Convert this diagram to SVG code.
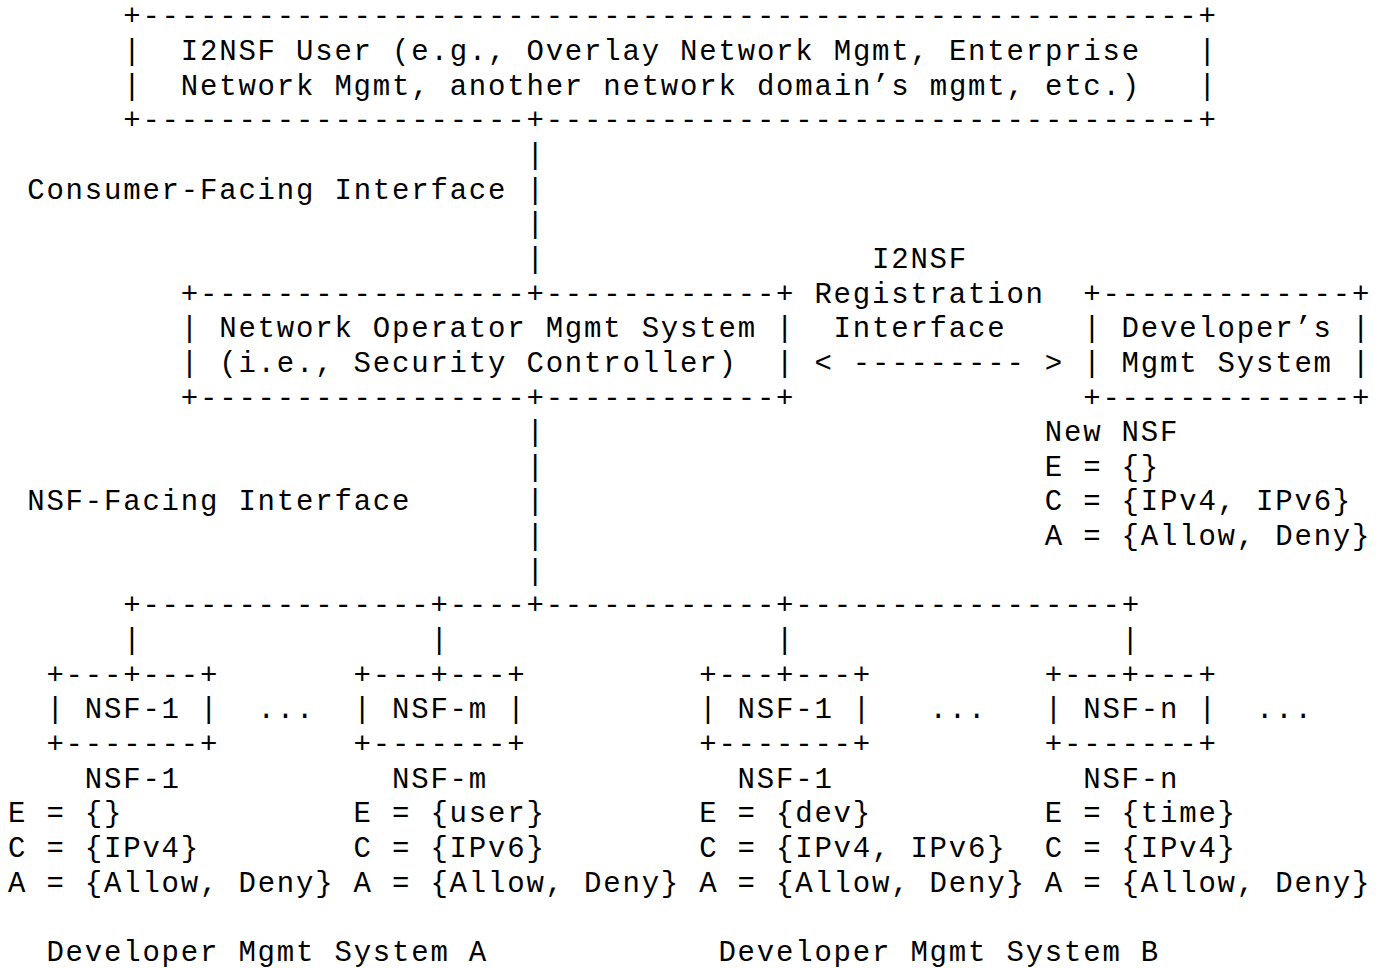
<svg xmlns="http://www.w3.org/2000/svg" width="1383" height="968" viewBox="0 0 1383 968">
<style>
.t{font-family:"Liberation Mono","Courier New",monospace;font-size:29px;letter-spacing:1.8px;fill:#000;white-space:pre}
</style>
<rect width="1383" height="968" fill="#fff"/>
<g id="i2nsf-user" class="t">
<text x="123.2" y="25.35">+-------------------------------------------------------+</text>
<text x="123.2" y="60">|</text>
<text x="180.8" y="60">I2NSF User (e.g., Overlay Network Mgmt, Enterprise</text>
<text x="1198.4" y="60">|</text>
<text x="123.2" y="94.65">|</text>
<text x="180.8" y="94.65">Network Mgmt, another network domain’s mgmt, etc.)</text>
<text x="1198.4" y="94.65">|</text>
<text x="123.2" y="129.3">+--------------------+----------------------------------+</text>
</g>
<g id="consumer-facing-interface" class="t">
<text x="27.2" y="198.6">Consumer-Facing Interface</text>
</g>
<g id="security-controller" class="t">
<text x="180.8" y="302.55">+-----------------+------------+</text>
<text x="180.8" y="337.2">|</text>
<text x="219.2" y="337.2">Network Operator Mgmt System</text>
<text x="776" y="337.2">|</text>
<text x="180.8" y="371.85">|</text>
<text x="219.2" y="371.85">(i.e., Security Controller)</text>
<text x="776" y="371.85">|</text>
<text x="180.8" y="406.5">+-----------------+------------+</text>
</g>
<g id="registration-interface" class="t">
<text x="872" y="267.9">I2NSF</text>
<text x="814.4" y="302.55">Registration</text>
<text x="833.6" y="337.2">Interface</text>
<text x="814.4" y="371.85">&lt; --------- &gt;</text>
</g>
<g id="developers-mgmt-system" class="t">
<text x="1083.2" y="302.55">+-------------+</text>
<text x="1083.2" y="337.2">|</text>
<text x="1121.6" y="337.2">Developer’s</text>
<text x="1352" y="337.2">|</text>
<text x="1083.2" y="371.85">|</text>
<text x="1121.6" y="371.85">Mgmt System</text>
<text x="1352" y="371.85">|</text>
<text x="1083.2" y="406.5">+-------------+</text>
</g>
<g id="new-nsf" class="t">
<text x="1044.8" y="441.15">New NSF</text>
<text x="1044.8" y="475.8">E = {}</text>
<text x="1044.8" y="510.45">C = {IPv4, IPv6}</text>
<text x="1044.8" y="545.1">A = {Allow, Deny}</text>
</g>
<g id="nsf-facing-interface" class="t">
<text x="27.2" y="510.45">NSF-Facing Interface</text>
</g>
<g id="connectors" class="t">
<text x="526.4" y="163.95">|</text>
<text x="526.4" y="198.6">|</text>
<text x="526.4" y="233.25">|</text>
<text x="526.4" y="267.9">|</text>
<text x="526.4" y="441.15">|</text>
<text x="526.4" y="475.8">|</text>
<text x="526.4" y="510.45">|</text>
<text x="526.4" y="545.1">|</text>
<text x="526.4" y="579.75">|</text>
<text x="123.2" y="614.4">+---------------+----+------------+-----------------+</text>
<text x="123.2" y="649.05">|</text>
<text x="430.4" y="649.05">|</text>
<text x="776" y="649.05">|</text>
<text x="1121.6" y="649.05">|</text>
</g>
<g id="nsf-a-1" class="t">
<text x="46.4" y="683.7">+---+---+</text>
<text x="46.4" y="718.35">| NSF-1 |</text>
<text x="46.4" y="753">+-------+</text>
<text x="84.8" y="787.65">NSF-1</text>
<text x="8" y="822.3">E = {}</text>
<text x="8" y="856.95">C = {IPv4}</text>
<text x="8" y="891.6">A = {Allow, Deny}</text>
</g>
<g id="nsf-a-m" class="t">
<text x="353.6" y="683.7">+---+---+</text>
<text x="353.6" y="718.35">| NSF-m |</text>
<text x="353.6" y="753">+-------+</text>
<text x="392" y="787.65">NSF-m</text>
<text x="353.6" y="822.3">E = {user}</text>
<text x="353.6" y="856.95">C = {IPv6}</text>
<text x="353.6" y="891.6">A = {Allow, Deny}</text>
</g>
<g id="nsf-b-1" class="t">
<text x="699.2" y="683.7">+---+---+</text>
<text x="699.2" y="718.35">| NSF-1 |</text>
<text x="699.2" y="753">+-------+</text>
<text x="737.6" y="787.65">NSF-1</text>
<text x="699.2" y="822.3">E = {dev}</text>
<text x="699.2" y="856.95">C = {IPv4, IPv6}</text>
<text x="699.2" y="891.6">A = {Allow, Deny}</text>
</g>
<g id="nsf-b-n" class="t">
<text x="1044.8" y="683.7">+---+---+</text>
<text x="1044.8" y="718.35">| NSF-n |</text>
<text x="1044.8" y="753">+-------+</text>
<text x="1083.2" y="787.65">NSF-n</text>
<text x="1044.8" y="822.3">E = {time}</text>
<text x="1044.8" y="856.95">C = {IPv4}</text>
<text x="1044.8" y="891.6">A = {Allow, Deny}</text>
</g>
<g id="ellipses" class="t">
<text x="257.6" y="718.35">...</text>
<text x="929.6" y="718.35">...</text>
<text x="1256" y="718.35">...</text>
</g>
<g id="developer-mgmt-system-a" class="t">
<text x="46.4" y="960.9">Developer Mgmt System A</text>
</g>
<g id="developer-mgmt-system-b" class="t">
<text x="718.4" y="960.9">Developer Mgmt System B</text>
</g>
</svg>
